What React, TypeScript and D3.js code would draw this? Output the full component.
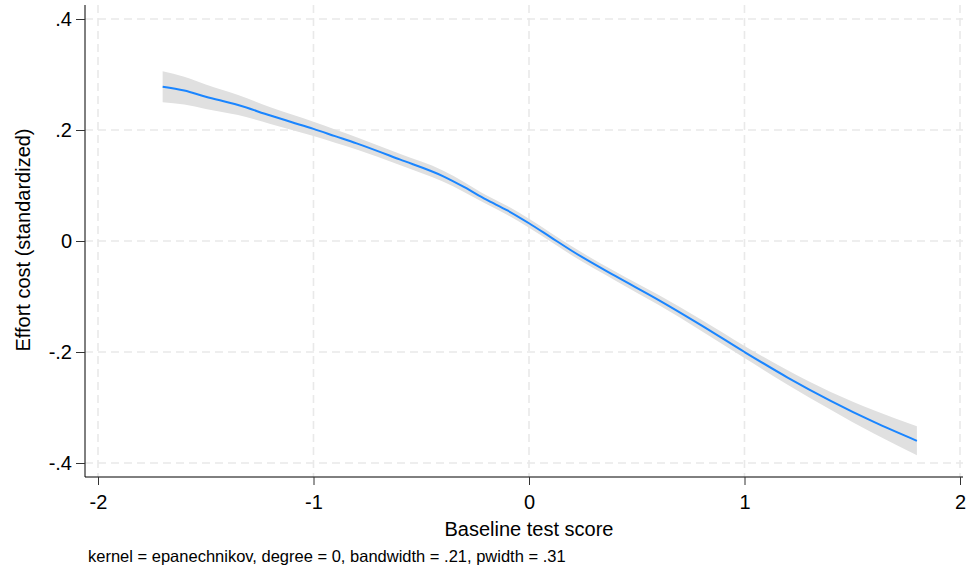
import React, { useEffect, useRef } from "react";
import * as d3 from "d3";

const xTicks = [-2, -1, 0, 1, 2];
const xTickLabels = ["-2", "-1", "0", "1", "2"];
const yTicks = [0.4, 0.2, 0, -0.2, -0.4];
const yTickLabels = [".4", ".2", "0", "-.2", "-.4"];

// baseline score grid, smoothed estimate and 95% band
const scoreX = [-1.7, -1.6, -1.5, -1.35, -1.2, -1.1, -1.0, -0.9, -0.8, -0.6, -0.4, -0.3, -0.2, -0.1, 0, 0.1, 0.2, 0.4, 0.6, 0.8, 1.0, 1.2, 1.4, 1.6, 1.8];
const effort = [0.278, 0.271, 0.260, 0.245, 0.226, 0.214, 0.202, 0.189, 0.176, 0.147, 0.117, 0.097, 0.075, 0.055, 0.032, 0.007, -0.018, -0.063, -0.106, -0.152, -0.200, -0.246, -0.288, -0.326, -0.360];
const lower = [0.250, 0.246, 0.238, 0.227, 0.211, 0.200, 0.189, 0.177, 0.165, 0.137, 0.107, 0.088, 0.067, 0.047, 0.024, -0.001, -0.026, -0.071, -0.115, -0.162, -0.211, -0.259, -0.304, -0.347, -0.386];
const upper = [0.306, 0.296, 0.282, 0.263, 0.241, 0.228, 0.215, 0.201, 0.187, 0.157, 0.127, 0.106, 0.083, 0.063, 0.040, 0.015, -0.010, -0.055, -0.097, -0.142, -0.189, -0.233, -0.272, -0.305, -0.334];

const note = "kernel = epanechnikov, degree = 0, bandwidth = .21, pwidth = .31";

const App = () => {
  const node = useRef<SVGSVGElement>(null);

  useEffect(() => {
    const svg = d3.select(node.current);
    svg.selectAll("*").remove();

    const x = d3.scaleLinear().domain([-2, 2]).range([98, 960]);
    const y = d3.scaleLinear().domain([-0.4, 0.4]).range([463, 19]);
    const font = "'Liberation Sans', Arial, sans-serif";

    // grid
    const grid = svg.append("g").attr("stroke", "#e9e9e9").attr("stroke-width", 1.6).attr("stroke-dasharray", "8,5");
    grid.selectAll("line.gx").data(xTicks).enter().append("line")
      .attr("x1", d => x(d)).attr("x2", d => x(d)).attr("y1", 5).attr("y2", 477);
    grid.selectAll("line.gy").data(yTicks).enter().append("line")
      .attr("x1", 85).attr("x2", 963).attr("y1", d => y(d)).attr("y2", d => y(d));

    const pts = scoreX.map((v, i) => ({ x: v, m: effort[i], lo: lower[i], hi: upper[i] }));

    const area = d3.area<any>().x(d => x(d.x)).y0(d => y(d.lo)).y1(d => y(d.hi)).curve(d3.curveMonotoneX);
    svg.append("path").attr("d", area(pts)).attr("fill", "#e0e0e0");

    const line = d3.line<any>().x(d => x(d.x)).y(d => y(d.m)).curve(d3.curveMonotoneX);
    svg.append("path").attr("d", line(pts)).attr("fill", "none").attr("stroke", "#1a85ff").attr("stroke-width", 2);

    // axes
    const yAxis = d3.axisLeft(y).tickValues(yTicks).tickSize(9).tickPadding(4)
      .tickFormat((d, i) => yTickLabels[i]);
    const yg = svg.append("g").attr("transform", "translate(85,0)").call(yAxis);
    yg.select(".domain").attr("d", "M0,5V477").attr("stroke", "#000");

    const xAxis = d3.axisBottom(x).tickValues(xTicks).tickSize(8).tickPadding(10)
      .tickFormat((d, i) => xTickLabels[i]);
    const xg = svg.append("g").attr("transform", "translate(0,477)").call(xAxis);
    xg.select(".domain").attr("d", "M85,0H963").attr("stroke", "#000");

    svg.selectAll(".tick line").attr("stroke", "#333");
    svg.selectAll(".tick text").attr("font-family", font).attr("font-size", 20).attr("fill", "#000");

    svg.append("text").attr("x", 529).attr("y", 536).attr("text-anchor", "middle")
      .attr("font-family", font).attr("font-size", 20).text("Baseline test score");
    svg.append("text").attr("transform", "translate(30,240) rotate(-90)").attr("text-anchor", "middle")
      .attr("font-family", font).attr("font-size", 20).text("Effort cost (standardized)");
    svg.append("text").attr("x", 88).attr("y", 562)
      .attr("font-family", font).attr("font-size", 16.5).text(note);
  }, []);

  return (
    <svg ref={node} width={966} height={568} style={{ position: "absolute", left: 0, top: 0, background: "#fff" }} />
  );
};

export default App;
